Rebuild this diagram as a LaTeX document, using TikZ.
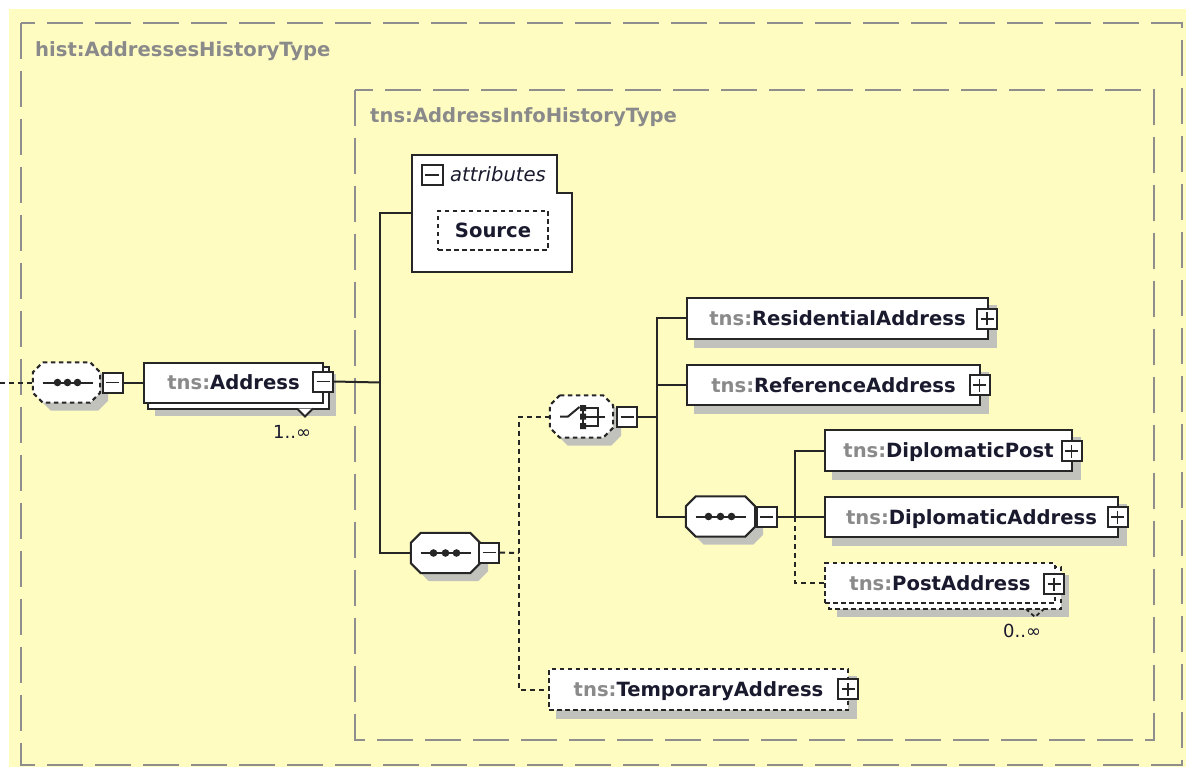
\documentclass[tikz,border=0pt]{standalone}
\usepackage{fontspec}
\setmainfont{DejaVu Sans}
\usetikzlibrary{calc}
\definecolor{bgy}{HTML}{FFFCC2}
\definecolor{shadowc}{HTML}{C2C2BC}
\definecolor{linec}{HTML}{262626}
\definecolor{bordc}{HTML}{8E8E8E}
\definecolor{tnsc}{HTML}{8A8A8A}
\definecolor{namec}{HTML}{1A1A2E}
\pgfdeclarelayer{bgl}\pgfdeclarelayer{shad}\pgfdeclarelayer{mid}
\pgfsetlayers{bgl,shad,mid,main}
\newcommand\tns[1]{{\color{tnsc}tns:}{\color{namec}#1}}
\newcommand\efont{\fontsize{19.6pt}{23pt}\selectfont\bfseries}
\newcommand\nfont{\fontsize{19.6pt}{23pt}\selectfont}
\newcommand\octpath[2]{($(#1.north west)+(10+#2,#2)$) -- ($(#1.north east)+(-10+#2,#2)$) -- ($(#1.north east)+(#2,10+#2)$) -- ($(#1.south east)+(#2,-10+#2)$) -- ($(#1.south east)+(-10+#2,#2)$) -- ($(#1.south west)+(10+#2,#2)$) -- ($(#1.south west)+(#2,-10+#2)$) -- ($(#1.north west)+(#2,10+#2)$) -- cycle}
\begin{document}
\begin{tikzpicture}[x=1pt,y=-1pt,
  conn/.style={draw=linec,line width=2pt},
  dconn/.style={conn,dash pattern=on 5pt off 4pt},
  elem/.style={draw=linec,fill=white,line width=2pt,inner sep=0pt,minimum height=40pt,text height=14.6pt,text depth=0pt,font=\efont},
  delem/.style={elem,dash pattern=on 4.5pt off 3.5pt},
  comp/.style={inner sep=0pt,minimum width=68pt,minimum height=40pt},
  octo/.style={draw=linec,fill=white,line width=2pt},
  docto/.style={octo,dash pattern=on 4.5pt off 3.5pt},
  pmbox/.style={draw=linec,fill=white,line width=2pt,inner sep=0pt,minimum width=20pt,minimum height=20pt,
    path picture={\draw[linec,line width=1.8pt] ([xshift=3.5pt]path picture bounding box.west) -- ([xshift=-3.5pt]path picture bounding box.east);}},
  plusbox/.style={draw=linec,fill=white,line width=2pt,inner sep=0pt,minimum width=20pt,minimum height=20pt,
    path picture={\draw[linec,line width=1.8pt] ([xshift=3.5pt]path picture bounding box.west) -- ([xshift=-3.5pt]path picture bounding box.east);
      \draw[linec,line width=1.8pt] ([yshift=3.5pt]path picture bounding box.south) -- ([yshift=-3.5pt]path picture bounding box.north);}},
  lbl/.style={font=\efont,text=tnsc,inner sep=0pt,anchor=base west},
  occ/.style={font=\fontsize{18pt}{21pt}\selectfont,text=namec,inner sep=0pt,anchor=base west},
  shd/.style={fill=shadowc}
]
\useasboundingbox (0,0) rectangle (1186,767);
\begin{pgfonlayer}{bgl}
  \fill[bgy] (9,9) rectangle (1186,767);
  \draw[bordc,line width=2pt,dash pattern=on 36pt off 12pt] (21,23) rectangle (1182,765);
  \draw[bordc,line width=2pt,dash pattern=on 36pt off 12pt] (355,90) rectangle (1154,740);
\end{pgfonlayer}

% labels
\node[lbl] (lblA) at (35,57) {hist:AddressesHistoryType};
\node[lbl] (lblB) at (370,123) {tns:AddressInfoHistoryType};

% left sequence compositor
\node[comp,minimum width=67pt] (seqA) at (66.5,382.5) {};
\draw[docto] \octpath{seqA}{0};
\begin{scope}[shift={(seqA.center)}]
  \draw[conn] (-24,0) -- (26,0);
  \fill[linec] (-9,0) circle[radius=3.8pt] (1,0) circle[radius=3.8pt] (11,0) circle[radius=3.8pt];
\end{scope}
\node[pmbox] (seqAm) at (112.5,382.5) {};
\coordinate (lin) at (0,382.5);
\draw[dconn] (lin) -- (seqA.west);

% Address
\node[elem,minimum width=179pt] (addr) at (233.5,382.5) {\tns{Address}};
\node[pmbox] (addrm) at (323,381.5) {};
\draw[conn] (seqAm.east) -- (addr.west);
\node[occ] (occA) at (273,438) {1..\char"221E};

% attributes
\node[inner sep=0pt,minimum width=160pt,minimum height=117pt] (attr) at (492,213.5) {};
\draw[conn,fill=white] (attr.north west) -- ($(attr.north east)+(-15,0)$) -- ($(attr.north east)+(-15,38)$) -- ($(attr.north east)+(0,38)$) -- (attr.south east) -- (attr.south west) -- cycle;
\node[pmbox,minimum width=21pt] (attrm) at (432,175) {};
\node[font=\nfont\itshape,text=namec,inner sep=0pt,anchor=base west] (attrt) at (450,182) {attributes};
\node[delem,minimum width=110pt,minimum height=39pt] (src) at (493,230.5) {\color{namec}Source};

% bottom sequence
\node[comp,minimum width=69pt] (seqB) at (445.5,553) {};
\draw[octo] \octpath{seqB}{0};
\begin{scope}[shift={(seqB.center)}]
  \draw[conn] (-25,0) -- (25,0);
  \fill[linec] (-12,0) circle[radius=3.8pt] (0,0) circle[radius=3.8pt] (11,0) circle[radius=3.8pt];
\end{scope}
\node[pmbox] (seqBm) at (489,552.5) {};

\coordinate (j1) at (380,382.5);
\draw[conn] (addrm.east) -- (j1);
\draw[conn] (attr.west) -| (j1) |- (seqB.west);

% choice
\node[comp,minimum width=63pt,minimum height=42pt] (choice) at (581.5,416.5) {};
\draw[docto] \octpath{choice}{0};
\begin{scope}[shift={(choice.center)}]
  \draw[conn] (-21.5,0) -- (-13.5,0) -- (-2,-9.5);
  \draw[conn] (1.5,-12) -- (1.5,12);
  \fill[linec] (-1.5,-11.5) rectangle (4.5,-5.5) (-1.5,-3) rectangle (4.5,3) (-1.5,6.5) rectangle (4.5,12.5);
  \draw[conn] (4.5,-8.5) -- (16.5,-8.5) -- (16.5,9.5) -- (4.5,9.5);
  \draw[conn] (4.5,0) -- (23.5,0);
\end{scope}
\node[pmbox] (choicem) at (627,417) {};

\coordinate (j2) at (519,553);
\draw[dconn] (seqBm.east) -- (j2);

% temporary address
\node[delem,minimum width=299pt,minimum height=41pt] (temp) at (698.5,689.5) {\tns{TemporaryAddress}};
\node[plusbox] (tempp) at (848,689) {};
\draw[dconn] (choice.west) -| (j2) |- (temp.west);

% residential / reference
\node[elem,minimum width=301pt,minimum height=41pt] (res) at (837.5,318.5) {\tns{ResidentialAddress}};
\node[plusbox] (resp) at (987,319) {};
\node[elem,minimum width=293pt] (ref) at (833.5,385) {\tns{ReferenceAddress}};
\node[plusbox] (refp) at (979.5,385) {};

% inner sequence
\node[comp,minimum width=69pt] (seqC) at (720.5,516.5) {};
\draw[octo] \octpath{seqC}{0};
\begin{scope}[shift={(seqC.center)}]
  \draw[conn] (-25,0) -- (25,0);
  \fill[linec] (-12,0) circle[radius=3.8pt] (0,0) circle[radius=3.8pt] (11,0) circle[radius=3.8pt];
\end{scope}
\node[pmbox] (seqCm) at (766.5,517) {};

\coordinate (j3) at (657,417);
\draw[conn] (choicem.east) -- (j3);
\draw[conn] (res.west) -| (j3) |- (seqC.west);
\draw[conn] (ref.west) -- (ref.west -| j3);

% diplomatic
\node[elem,minimum width=247pt,minimum height=41pt] (dpost) at (948.5,450.5) {\tns{DiplomaticPost}};
\node[plusbox] (dpostp) at (1071.5,451) {};
\node[elem,minimum width=293pt] (daddr) at (971.5,517) {\tns{DiplomaticAddress}};
\node[plusbox] (daddrp) at (1117.5,517) {};

% post address (stacked, optional)
\node[delem,minimum width=230pt] (paddr) at (940,583) {\tns{PostAddress}};
\node[plusbox] (paddrp) at (1054,584) {};
\node[occ] (occB) at (1003,637) {0..\char"221E};

\coordinate (j4) at (795,517);
\draw[conn] (seqCm.east) -- (j4);
\draw[conn] (dpost.west) -| (j4) -- (daddr.west);
\draw[dconn] (j4) |- (paddr.west);

% stacked copies
\begin{pgfonlayer}{mid}
  \draw[draw=linec,fill=white,line width=2pt] ($(addr.north west)+(5,5)$) rectangle ($(addr.south east)+(5,5)$);
  \draw[draw=linec,fill=white,line width=1.8pt] ($(addr.south east)+(-27,5)$) -- ($(addr.south east)+(-19,13)$) -- ($(addr.south east)+(-11,5)$);
  \draw[draw=linec,fill=white,line width=2pt,dash pattern=on 4.5pt off 3.5pt] ($(paddr.north west)+(5,5)$) rectangle ($(paddr.south east)+(5,5)$);
  \draw[draw=linec,line width=1.8pt,dash pattern=on 4pt off 3pt] ($(paddr.south east)+(-30,5)$) -- ($(paddr.south east)+(-21,13)$) -- ($(paddr.south east)+(-12,5)$);
\end{pgfonlayer}

% shadows
\begin{pgfonlayer}{shad}
  \fill[shd] \octpath{seqA}{8};
  \fill[shd] \octpath{seqB}{8};
  \fill[shd] \octpath{choice}{8};
  \fill[shd] \octpath{seqC}{8};
  \fill[shd] ($(addr.north west)+(12,12)$) rectangle ($(addr.south east)+(12,12)$);
  \fill[shd] ($(paddr.north west)+(13,13)$) rectangle ($(paddr.south east)+(13,13)$);
  \foreach \n in {src,temp,res,ref,dpost,daddr}
    \fill[shd] ($(\n.north west)+(8,8)$) rectangle ($(\n.south east)+(8,8)$);
\end{pgfonlayer}
\end{tikzpicture}
\end{document}
